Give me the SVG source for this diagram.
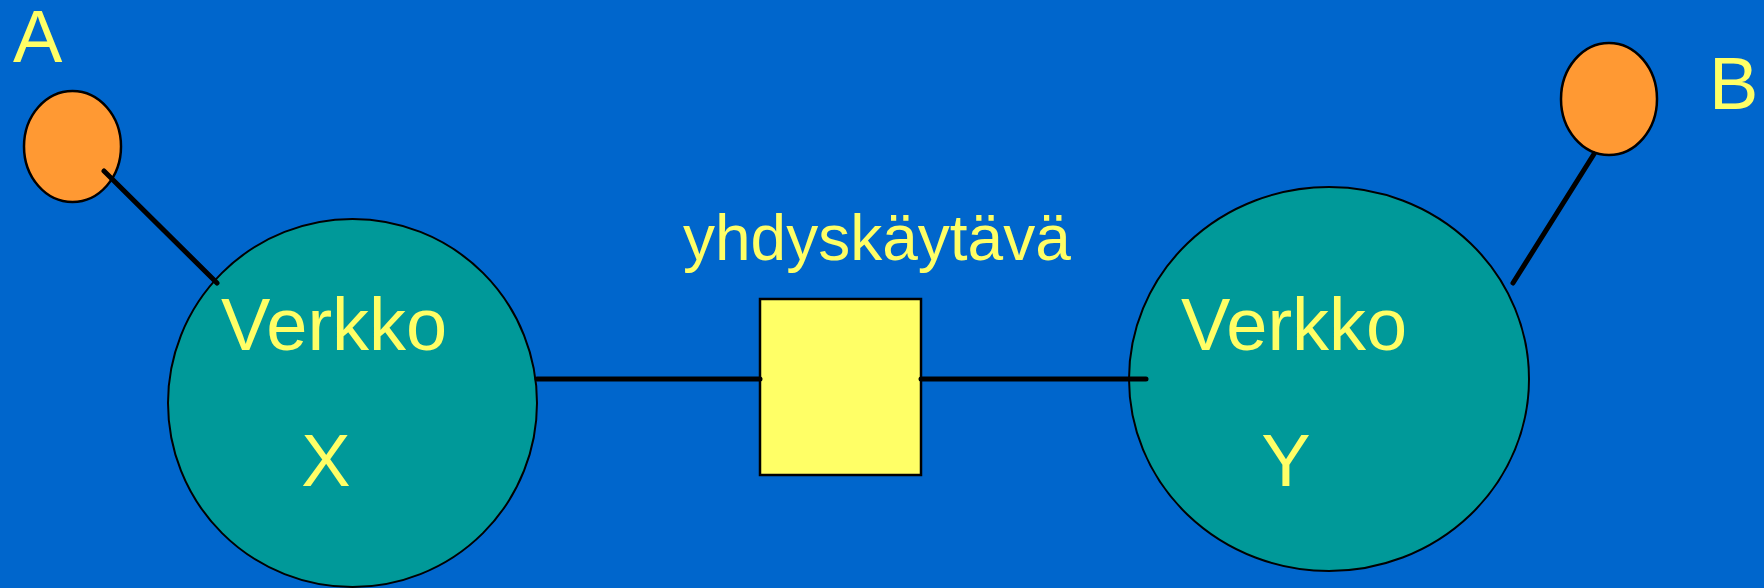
<svg xmlns="http://www.w3.org/2000/svg" width="1764" height="588" viewBox="0 0 1764 588">
  <style>
    .lbl { font-family: "Liberation Sans", Arial, sans-serif; fill: #FFFF66; }
    .host { fill: #FF9933; stroke: #000; stroke-width: 2.5; }
    .net { fill: #009999; stroke: #000; stroke-width: 2; }
    .gw { fill: #FFFF66; stroke: #000; stroke-width: 2.5; }
    .conn { stroke: #000; stroke-width: 5; stroke-linecap: round; fill: none; }
  </style>
  <rect x="0" y="0" width="1764" height="588" fill="#0066CC"/>
  <g id="netX">
    <ellipse class="net" cx="352.5" cy="403" rx="184.5" ry="184"/>
    <text class="lbl" x="221" y="350" font-size="74">Verkko</text>
    <text class="lbl" x="326" y="486" font-size="74" text-anchor="middle">X</text>
  </g>
  <g id="netY">
    <ellipse class="net" cx="1329" cy="379" rx="200" ry="192"/>
    <text class="lbl" x="1181" y="350" font-size="74">Verkko</text>
    <text class="lbl" x="1286" y="486" font-size="74" text-anchor="middle">Y</text>
  </g>
  <g id="hostA">
    <ellipse class="host" cx="72.5" cy="146.5" rx="48.5" ry="55.5"/>
    <text class="lbl" x="13" y="62" font-size="74">A</text>
  </g>
  <g id="hostB">
    <ellipse class="host" cx="1609" cy="99" rx="48" ry="56"/>
    <text class="lbl" x="1709" y="109" font-size="74">B</text>
  </g>
  <g id="gateway">
    <rect class="gw" x="760" y="299" width="161" height="176"/>
    <text class="lbl" x="683" y="260" font-size="64">yhdyskäytävä</text>
  </g>
  <g id="connectors">
    <line class="conn" x1="104" y1="171" x2="217" y2="283"/>
    <line class="conn" x1="1594" y1="154" x2="1513" y2="283"/>
    <line class="conn" x1="537" y1="379" x2="760" y2="379"/>
    <line class="conn" x1="921" y1="379" x2="1146" y2="379"/>
  </g>
</svg>
